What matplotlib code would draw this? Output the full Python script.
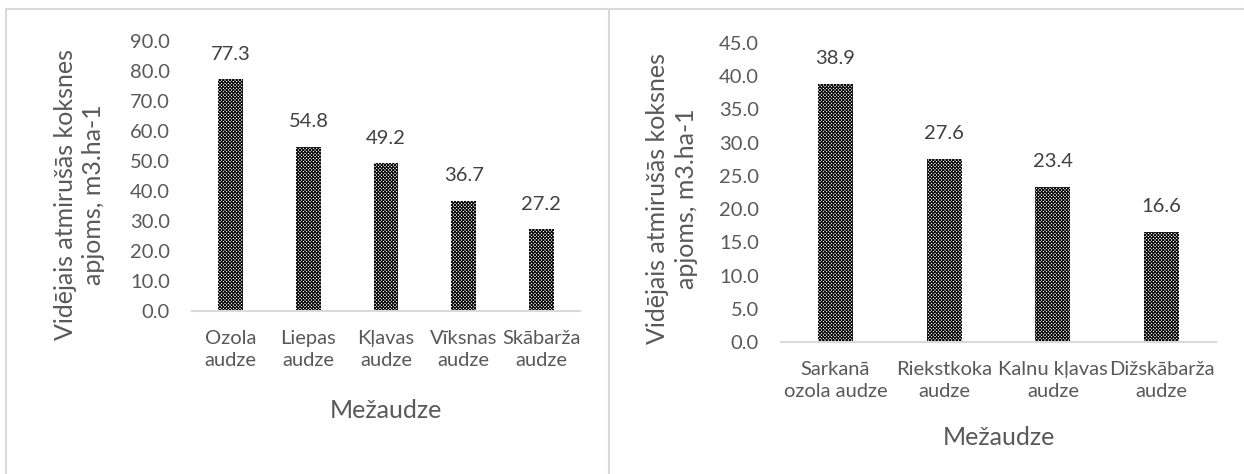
import matplotlib
matplotlib.use("Agg")
import matplotlib.pyplot as plt
from matplotlib.lines import Line2D

plt.rcParams["font.family"] = ["Lato", "DejaVu Sans"]
plt.rcParams["hatch.linewidth"] = 0.75

# left chart
cats_left = ["Ozola\naudze", "Liepas\naudze", "Kļavas\naudze", "Vīksnas\naudze", "Skābarža\naudze"]
vals_left = [77.3, 54.8, 49.2, 36.7, 27.2]
yticks_left = [0, 10, 20, 30, 40, 50, 60, 70, 80, 90]

# right chart
cats_right = ["Sarkanā\nozola audze", "Riekstkoka\naudze", "Kalnu kļavas\naudze", "Dižskābarža\naudze"]
vals_right = [38.9, 27.6, 23.4, 16.6]
yticks_right = [0, 5, 10, 15, 20, 25, 30, 35, 40, 45]

ylabel = "Vidējais atmirušās koksnes\napjoms, m3.ha-1"
xlabel = "Mežaudze"

W, H = 1244, 474
TEXT = "#595959"
VAL = "#404040"
GRID = "#d9d9d9"

fig = plt.figure(figsize=(W / 100, H / 100), dpi=100)


def px_axes(x0, x1, ybase, ytop):
    return fig.add_axes([x0 / W, (H - ybase) / H, (x1 - x0) / W, (ybase - ytop) / H])


def draw(ax, cats, vals, yticks, ylab_pos, xlab_y):
    x = range(len(cats))
    ax.bar(x, vals, width=0.32, facecolor="white", edgecolor="black",
           linewidth=0, hatch="x" * 10)
    for xi, v in zip(x, vals):
        ax.annotate(f"{v:.1f}", (xi, v), xytext=(0, 18), textcoords="offset points",
                    ha="center", va="center", fontsize=14.5, color=VAL)
    ax.set_xlim(-0.5, len(cats) - 0.5)
    ax.set_ylim(yticks[0], yticks[-1])
    ax.set_yticks(yticks)
    ax.set_yticklabels([f"{t:.1f}" for t in yticks])
    ax.set_xticks(list(x))
    ax.set_xticklabels(cats, linespacing=1.35)
    ax.tick_params(length=0, labelsize=14.5, labelcolor=TEXT)
    ax.tick_params(axis="x", pad=14)
    ax.tick_params(axis="y", pad=16)
    for s in ["top", "right", "left"]:
        ax.spines[s].set_visible(False)
    ax.spines["bottom"].set_color(GRID)
    ax.spines["bottom"].set_linewidth(1.5)
    ax.set_ylabel(ylabel, fontsize=18, color=TEXT, va="center", linespacing=1.3)
    ax.yaxis.set_label_coords(*ylab_pos)
    ax.set_xlabel(xlabel, fontsize=18, color=TEXT, va="center")
    ax.xaxis.set_label_coords(0.5, xlab_y)


ax1 = px_axes(192, 580, 311, 41)
draw(ax1, cats_left, vals_left, yticks_left, (-0.29, 0.43), -0.37)

ax2 = px_axes(781, 1216, 342, 43)
draw(ax2, cats_right, vals_right, yticks_right, (-0.25, 0.48), -0.32)

# chart frames
for xs, ys in [([6, W], [9, 9]), ([6, 6], [9, H]), ([609, 609], [9, H])]:
    fig.add_artist(Line2D([v / W for v in xs], [(H - v) / H for v in ys],
                          transform=fig.transFigure, color=GRID, linewidth=1.5))

fig.savefig("out.png", dpi=100)
